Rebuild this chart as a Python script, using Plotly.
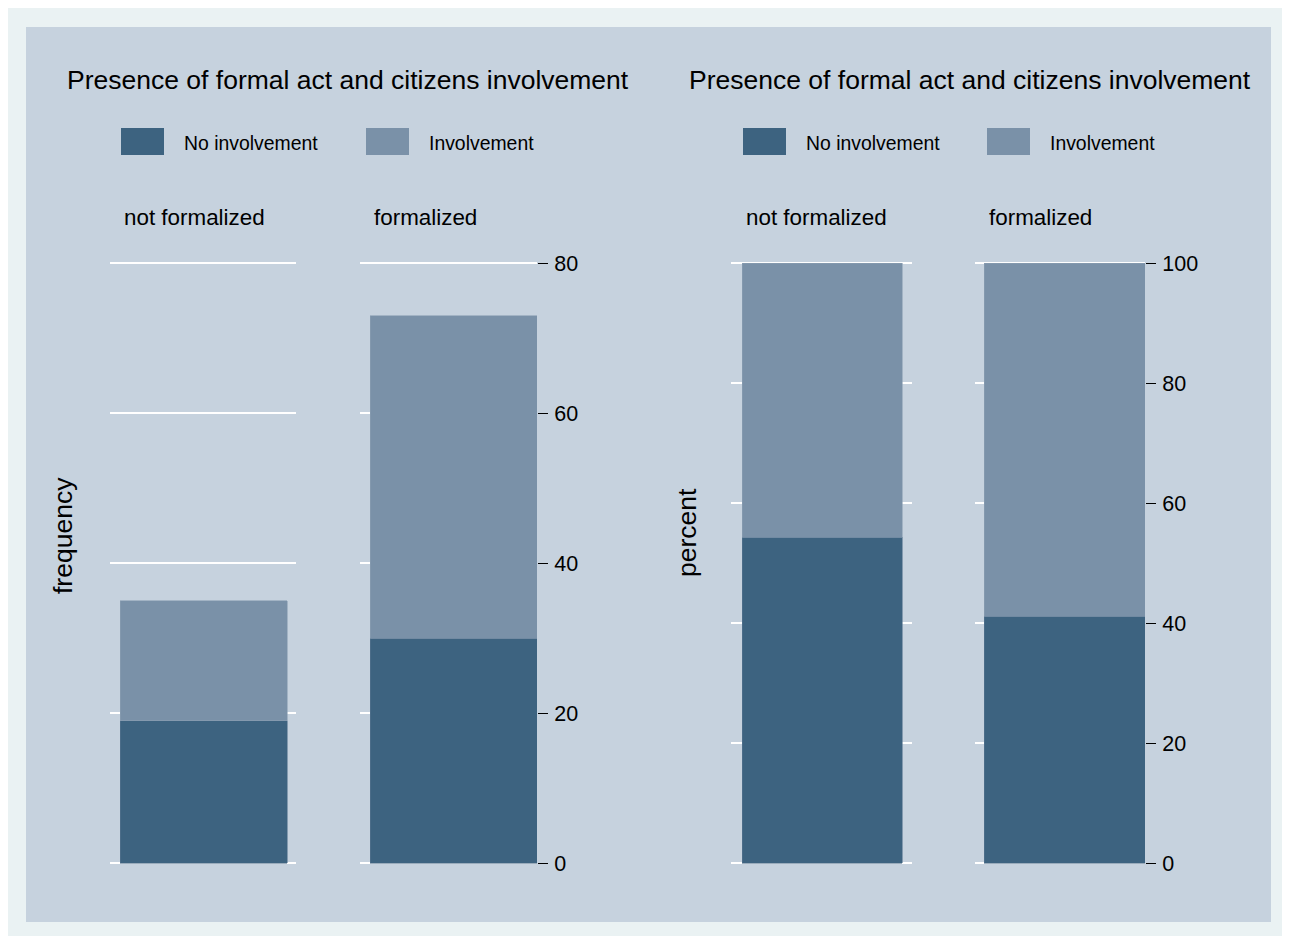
import plotly.graph_objects as go

# ---- data ----
groups = ["not formalized", "formalized"]
series = ["No involvement", "Involvement"]
freq_no = [19, 30]
freq_inv = [16, 43]
pct_no = [54.3, 41.1]
pct_inv = [45.7, 58.9]
freq_ticks = [0, 20, 40, 60, 80]
pct_ticks = [0, 20, 40, 60, 80, 100]
graph_title = "Presence of formal act and citizens involvement"

# ---- styling / layout helpers ----
W, H = 1290, 936
OX, OY = 8, 8  # body margin offset of the page
FONT = "Liberation Sans, Arial, sans-serif"
DARK = "#3d6380"
LIGHT = "#7a91a8"
INNER = "#c6d2de"
OUTER = "#eaf2f3"


def X(px):
    return (px - OX) / W


def Y(py):
    return 1 - (py - OY) / H


# plot areas and bar extents in pixels (for the four sub-panels)
panels = [
    dict(p0=110, p1=296, b0=120, b1=287),
    dict(p0=360, p1=537, b0=370, b1=537),
    dict(p0=731, p1=912, b0=742, b1=902),
    dict(p0=975, p1=1145, b0=984, b1=1145),
]
Y_TOP, Y_BOT = 263, 863
PAD = 3  # extra pixels so that the edge gridlines are drawn

fig = go.Figure()

datasets = [(freq_no, freq_inv, 80, freq_ticks), (pct_no, pct_inv, 100, pct_ticks)]
layout_axes = {}
for g, (vno, vinv, top, ticks) in enumerate(datasets):
    upp = top / (Y_BOT - Y_TOP)  # units per pixel
    for j, grp in enumerate(groups):
        k = 2 * g + j + 1
        xa = "x" if k == 1 else f"x{k}"
        ya = "y" if k == 1 else f"y{k}"
        fig.add_trace(go.Bar(x=[grp], y=[vno[j]], width=[1],
                             marker=dict(color=DARK, line=dict(width=0.6, color="#56758f")),
                             name=series[0], showlegend=False, xaxis=xa, yaxis=ya))
        fig.add_trace(go.Bar(x=[grp], y=[vinv[j]], width=[1],
                             marker=dict(color=LIGHT, line=dict(width=0.6, color="#8a9fb3")),
                             name=series[1], showlegend=False, xaxis=xa, yaxis=ya))
        p = panels[k - 1]
        s = p["b1"] - p["b0"]
        lo = -0.5 - (p["b0"] - p["p0"]) / s
        hi = 0.5 + (p["p1"] - p["b1"]) / s
        xkey = "xaxis" if k == 1 else f"xaxis{k}"
        ykey = "yaxis" if k == 1 else f"yaxis{k}"
        layout_axes[xkey] = dict(domain=[X(p["p0"]), X(p["p1"])], range=[lo, hi], visible=False,
                                 anchor=ya, fixedrange=True, automargin=False)
        right = (j == 1)
        layout_axes[ykey] = dict(
            domain=[Y(Y_BOT + PAD), Y(Y_TOP - PAD)], range=[-PAD * upp, top + PAD * upp], anchor=xa,
            tickvals=ticks, showgrid=True, gridcolor="white", gridwidth=1.6,
            zeroline=False, showline=False,
            side="right" if right else "left",
            ticks="outside" if right else "",
            ticklen=10, tickwidth=1.2, tickcolor="#000",
            showticklabels=right, ticklabelstandoff=2,
            tickfont=dict(family=FONT, size=21.5, color="#000"),
            fixedrange=True, automargin=False,
        )

shapes = [
    dict(type="rect", xref="paper", yref="paper", x0=X(26), x1=X(1271), y0=Y(922), y1=Y(27),
         fillcolor=INNER, line=dict(width=0), layer="below"),
]
annotations = []

# titles
for cx in [348, 970]:
    annotations.append(dict(text=graph_title, x=X(cx), y=Y(80), xref="paper", yref="paper",
                            xanchor="center", yanchor="middle", showarrow=False,
                            font=dict(family=FONT, size=26.5, color="#000")))

# legends
legend_items = [(121, 183, DARK, series[0]), (366, 428, LIGHT, series[1]),
                (743, 805, DARK, series[0]), (987, 1049, LIGHT, series[1])]
for sx, tx, col, label in legend_items:
    shapes.append(dict(type="rect", xref="paper", yref="paper", x0=X(sx), x1=X(sx + 43),
                       y0=Y(155), y1=Y(128), fillcolor=col, line=dict(width=0)))
    annotations.append(dict(text=label, x=X(tx), y=Y(143), xref="paper", yref="paper",
                            xanchor="left", yanchor="middle", showarrow=False, borderpad=0,
                            font=dict(family=FONT, size=19.4, color="#000")))

# sub-panel labels
for lx, grp in zip([123, 373, 745, 988], groups * 2):
    annotations.append(dict(text=grp, x=X(lx), y=Y(218), xref="paper", yref="paper",
                            xanchor="left", yanchor="middle", showarrow=False, borderpad=0,
                            font=dict(family=FONT, size=22.4, color="#000")))

# y axis titles
for ax_x, ax_y, txt in [(63, 536, "frequency"), (687, 533, "percent")]:
    annotations.append(dict(text=txt, x=X(ax_x), y=Y(ax_y), xref="paper", yref="paper",
                            xanchor="center", yanchor="middle", textangle=-90, showarrow=False,
                            font=dict(family=FONT, size=26.5, color="#000")))

fig.update_layout(
    width=W, height=H, margin=dict(l=0, r=0, t=0, b=0, autoexpand=False),
    paper_bgcolor=OUTER, plot_bgcolor="rgba(0,0,0,0)",
    barmode="stack", showlegend=False,
    shapes=shapes, annotations=annotations,
    font=dict(family=FONT, color="#000"),
    **layout_axes,
)

fig.write_html("out.html")
